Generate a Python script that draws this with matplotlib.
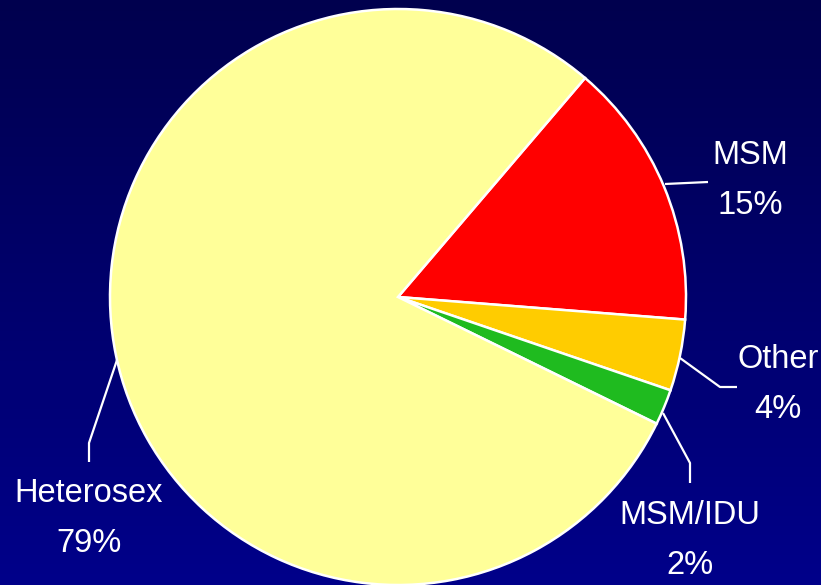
import numpy as np
import matplotlib.pyplot as plt

# Transmission category shares (%)
labels = ["MSM", "Other", "MSM/IDU", "Heterosex"]
shares = [15, 4, 2, 79]
colors = ["#FF0000", "#FFCC00", "#1FBB1F", "#FFFF99"]

W, H = 821, 585
fig = plt.figure(figsize=(W / 100, H / 100), dpi=100)

# dark blue vertical gradient background
bg = fig.add_axes([0, 0, 1, 1], zorder=0)
grad = np.linspace(0, 1, 256).reshape(-1, 1)
top = np.array([0, 0, 0x4E]) / 255
bot = np.array([0, 0, 0x8A]) / 255
img = top + (bot - top) * grad[..., None]
bg.imshow(img, aspect="auto", extent=[0, 1, 0, 1], origin="upper")
bg.axis("off")

ax = fig.add_axes([0, 0, 1, 1], zorder=1)
ax.patch.set_alpha(0)

ax.pie(shares, colors=colors, startangle=49.5, counterclock=False,
       center=(398, H - 297), radius=288, frame=True,
       wedgeprops=dict(edgecolor="white", linewidth=1.8))
ax.set_xlim(0, W)
ax.set_ylim(0, H)
ax.set_aspect("equal")
ax.axis("off")

# leader lines (pixel coords, y from top)
leaders = [
    [(665, 184), (708, 182)],
    [(680, 358), (720, 387), (737, 387)],
    [(663, 413), (690, 463), (690, 483)],
    [(117, 360), (89, 443), (89, 462)],
]
for pts in leaders:
    xs = [p[0] for p in pts]
    ys = [H - p[1] for p in pts]
    ax.plot(xs, ys, color="white", lw=1.6, solid_capstyle="butt")

label_pos = [(750, 155, 205), (778, 360, 410), (690, 515, 565), (89, 493, 543)]
font = ["Liberation Sans Narrow", "Liberation Sans", "DejaVu Sans"]
for name, val, (x, y1, y2) in zip(labels, shares, label_pos):
    ax.text(x, H - y1, name, color="white", fontsize=23.5, family=font,
            ha="center", va="center")
    ax.text(x, H - y2, f"{val}%", color="white", fontsize=23.5, family=font,
            ha="center", va="center")

fig.savefig("out.png", dpi=100)
